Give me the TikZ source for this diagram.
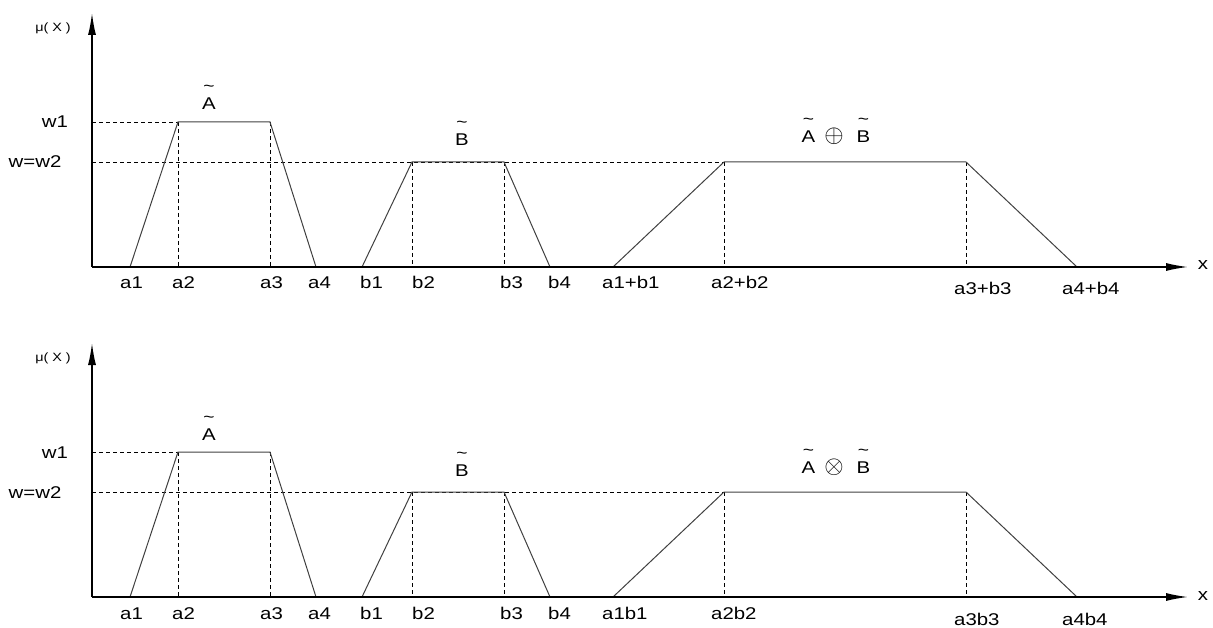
\documentclass[tikz,border=0pt]{standalone}
\usepackage{fontspec}
\setmainfont{Liberation Sans}[FakeStretch=1.2]
\usetikzlibrary{arrows.meta}
\newcommand\tl[1]{\ooalign{\hfil\raisebox{18pt}{\fontsize{16}{16}\selectfont\char"7E}\hfil\cr#1\cr}}
\tikzset{
  axisline/.style={line width=1.4pt, -{Latex[length=22pt,width=8pt]}},
  memb/.style={line width=1pt, draw=black!75},
  guide/.style={line width=0.9pt, dash pattern=on 4pt off 3pt},
  lbl/.style={inner sep=0pt, anchor=base west, font=\fontsize{17}{20}\selectfont},
  clbl/.style={inner sep=0pt, anchor=base, font=\fontsize{17}{20}\selectfont},
}
\newcommand\drawpanel[6]{%
  \coordinate (#1o) at (92,267);
  \coordinate (#1ytop) at (92,13);
  \coordinate (#1xend) at (1188,267);
  \coordinate (#1w1) at (92,122);
  \coordinate (#1w2) at (92,162);
  \coordinate (#1a1) at (130,267);
  \coordinate (#1a2) at (178,122);
  \coordinate (#1a3) at (270,122);
  \coordinate (#1a4) at (316,267);
  \coordinate (#1a2b) at (178,267);
  \coordinate (#1a3b) at (270,267);
  \coordinate (#1b1) at (362,267);
  \coordinate (#1b2) at (412,162);
  \coordinate (#1b3) at (504,162);
  \coordinate (#1b4) at (550,267);
  \coordinate (#1b2b) at (412,267);
  \coordinate (#1b3b) at (504,267);
  \coordinate (#1s1) at (613,267);
  \coordinate (#1s2) at (724,162);
  \coordinate (#1s3) at (966,162);
  \coordinate (#1s4) at (1077,267);
  \coordinate (#1s2b) at (724,267);
  \coordinate (#1s3b) at (966,267);
  % guides
  \draw[guide] (#1w1) -- (#1a2);
  \draw[guide] (#1w2) -- (#1s2);
  \draw[guide] (#1a2) -- (#1a2b);
  \draw[guide] (#1a3) -- (#1a3b);
  \draw[guide] (#1b2) -- (#1b2b);
  \draw[guide] (#1b3) -- (#1b3b);
  \draw[guide] (#1s2) -- (#1s2b);
  \draw[guide] (#1s3) -- (#1s3b);
  % membership functions
  \draw[memb] (#1a1) -- (#1a2) -- (#1a3) -- (#1a4);
  \draw[memb] (#1b1) -- (#1b2) -- (#1b3) -- (#1b4);
  \draw[memb] (#1s1) -- (#1s2) -- (#1s3) -- (#1s4);
  % axes
  \draw[axisline] (#1o) -- (#1ytop);
  \draw[axisline] (#1o) -- (#1xend);
  % labels
  \node[clbl, font=\fontsize{12}{14}\selectfont] (#1mu) at (53,32) {μ( X )};
  \node[clbl] (#1x) at (1203,270) {x};
  \node[clbl] (#1lw1) at (55,128) {w1};
  \node[clbl] (#1lw2) at (35,168) {w=w2};
  \node[lbl] (#1la1) at (120,289) {a1};
  \node[lbl] (#1la2) at (172,289) {a2};
  \node[lbl] (#1la3) at (260,289) {a3};
  \node[lbl] (#1la4) at (308,289) {a4};
  \node[lbl] (#1lb1) at (360,289) {b1};
  \node[lbl] (#1lb2) at (412,289) {b2};
  \node[lbl] (#1lb3) at (500,289) {b3};
  \node[lbl] (#1lb4) at (548,289) {b4};
  \node[lbl] (#1ls1) at (602,289) {#3};
  \node[lbl] (#1ls2) at (711,289) {#4};
  \node[lbl] (#1ls3) at (954,295) {#5};
  \node[lbl] (#1ls4) at (1062,295) {#6};
  \node[clbl] (#1nA) at (209,110) {\tl{A}};
  \node[clbl] (#1nB) at (462,146) {\tl{B}};
  \node[clbl] (#1nS) at (836,143) {\tl{A}\hspace{9pt}{\fontsize{26}{26}\selectfont$#2$}\hspace{13pt}\tl{B}};
}
\begin{document}
\begin{tikzpicture}[x=1pt,y=-1pt]
\useasboundingbox (0,0) rectangle (1213,628);
\begin{scope}
  \drawpanel{t}{\oplus}{a1+b1}{a2+b2}{a3+b3}{a4+b4}
\end{scope}
\begin{scope}[yshift=-330pt]
  \drawpanel{u}{\otimes}{a1b1}{a2b2}{a3b3}{a4b4}
\end{scope}
\end{tikzpicture}
\end{document}
